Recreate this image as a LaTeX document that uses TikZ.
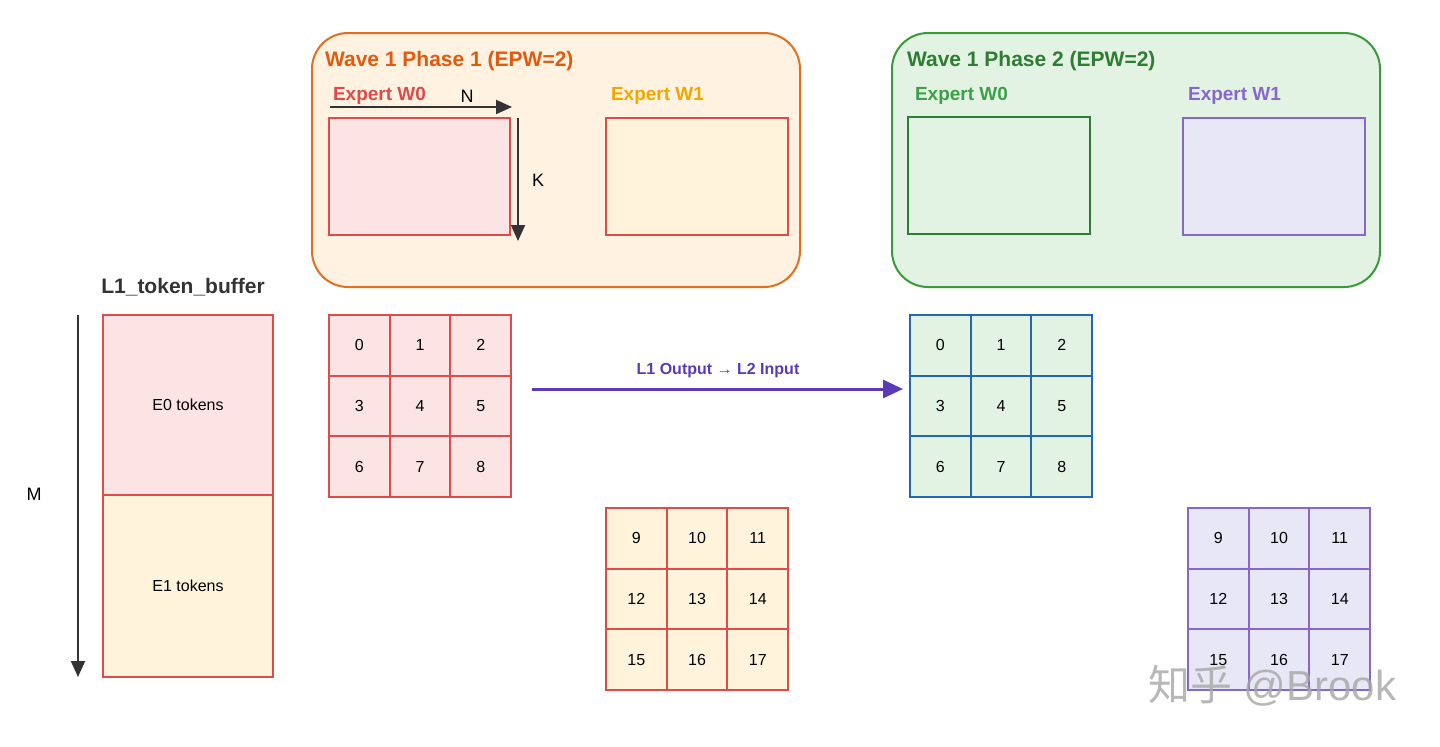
\documentclass[tikz,border=0pt]{standalone}
\usepackage{fontspec}
\setmainfont{Liberation Sans}
\newfontfamily\cjk{Noto Sans CJK SC}
\usetikzlibrary{arrows.meta}
\definecolor{pinkF}{HTML}{FCE4E4}
\definecolor{redS}{HTML}{DD4B4B}
\definecolor{yelF}{HTML}{FFF3DC}
\definecolor{orgF}{HTML}{FFF2E0}
\definecolor{orgS}{HTML}{E0701E}
\definecolor{orgT}{HTML}{E05A10}
\definecolor{grnF}{HTML}{E3F3E3}
\definecolor{grnS}{HTML}{3A9A3A}
\definecolor{grnT}{HTML}{2E7D32}
\definecolor{grnL}{HTML}{3AA04A}
\definecolor{bluS}{HTML}{2266BB}
\definecolor{purF}{HTML}{E7E7F6}
\definecolor{purS}{HTML}{8866CC}
\definecolor{purT}{HTML}{5B3AB8}
\definecolor{expY}{HTML}{F0A800}
\definecolor{dk}{HTML}{333333}
\begin{document}
\begin{tikzpicture}[x=0.5pt,y=-0.5pt,
  lbl/.style={font=\bfseries\fontsize{9.5}{10}\selectfont,anchor=west},
  ttl/.style={font=\bfseries\fontsize{10.5}{12}\selectfont,anchor=west},
  num/.style={font=\fontsize{8}{9}\selectfont},
  box/.style={line width=0.8pt},
  dim/.style={draw=dk,line width=1pt,-{Triangle[length=8pt,width=7pt]}}]
\useasboundingbox[fill=white] (0,0) rectangle (1440,746);
% phase boxes
\draw[fill=orgF,draw=orgS,line width=1pt,rounded corners=18pt] (312,33) rectangle (800,287);
\node[ttl,text=orgT] (t1) at (318,61) {Wave 1 Phase 1 (EPW=2)};
\draw[fill=grnF,draw=grnS,line width=1pt,rounded corners=18pt] (892,33) rectangle (1380,287);
\node[ttl,text=grnT] (t2) at (900,61) {Wave 1 Phase 2 (EPW=2)};
% experts
\node[lbl,text=redS] (e0l) at (326,96) {Expert W0};
\draw[box,fill=pinkF,draw=redS] (329,118) rectangle (510,235);
\node[lbl,text=expY] (e1l) at (604,96) {Expert W1};
\draw[box,fill=yelF,draw=redS] (606,118) rectangle (788,235);
\node[lbl,text=grnL] (g0l) at (908,96) {Expert W0};
\draw[box,fill=grnF,draw=grnT] (908,117) rectangle (1090,234);
\node[lbl,text=purS] (g1l) at (1181,96) {Expert W1};
\draw[box,fill=purF,draw=purS] (1183,118) rectangle (1365,235);
% N, K
\coordinate (n0) at (330,107); \coordinate (n1) at (512,107);
\draw[dim] (n0) -- (n1);
\node[font=\fontsize{9}{10}\selectfont] (N) at (467,96) {N};
\coordinate (k0) at (518,118); \coordinate (k1) at (518,241);
\draw[dim] (k0) -- (k1);
\node[font=\fontsize{9}{10}\selectfont] (K) at (538,180) {K};
% buffer
\node[font=\bfseries\fontsize{10.5}{12}\selectfont,text=dk] (buf) at (183,287) {L1\_token\_buffer};
\coordinate (m0) at (78,315); \coordinate (m1) at (78,677);
\draw[dim] (m0) -- (m1);
\node[font=\fontsize{9}{10}\selectfont] (M) at (34,494) {M};
\draw[box,fill=pinkF,draw=redS] (103,315) rectangle (273,495);
\node[num] (e0) at (188,405) {E0 tokens};
\draw[box,fill=yelF,draw=redS] (103,495) rectangle (273,677);
\node[num] (e1) at (188,586) {E1 tokens};
% grids
\newcommand{\mygrid}[5]{%
 \foreach \r in {0,1,2}{\foreach \c in {0,1,2}{%
  \pgfmathtruncatemacro{\v}{#5+3*\r+\c}
  \draw[fill=#3,draw=#4,line width=1pt] ({#1+\c*60.7},{#2+\r*60.7}) rectangle ++(60.7,60.7);
  \node[num] at ({#1+\c*60.7+30.35},{#2+\r*60.7+30.35}) {\v};}}}
\mygrid{329}{315}{pinkF}{redS}{0}
\mygrid{606}{508}{yelF}{redS}{9}
\mygrid{910}{315}{grnF}{bluS}{0}
\mygrid{1188}{508}{purF}{purS}{9}
% transfer arrow
\coordinate (a0) at (532,389); \coordinate (a1) at (903,389);
\draw[draw=purT,line width=1.5pt,-{Triangle[length=10pt,width=9pt]}] (a0) -- (a1);
\node[font=\bfseries\fontsize{8}{9}\selectfont,text=purT] (al) at (718,371) {L1 Output → L2 Input};
% watermark
\node[text=gray!70,opacity=0.8,font=\fontsize{21}{22}\selectfont] (wm) at (1272,686) {{\cjk 知乎} @Brook};
\end{tikzpicture}
\end{document}
